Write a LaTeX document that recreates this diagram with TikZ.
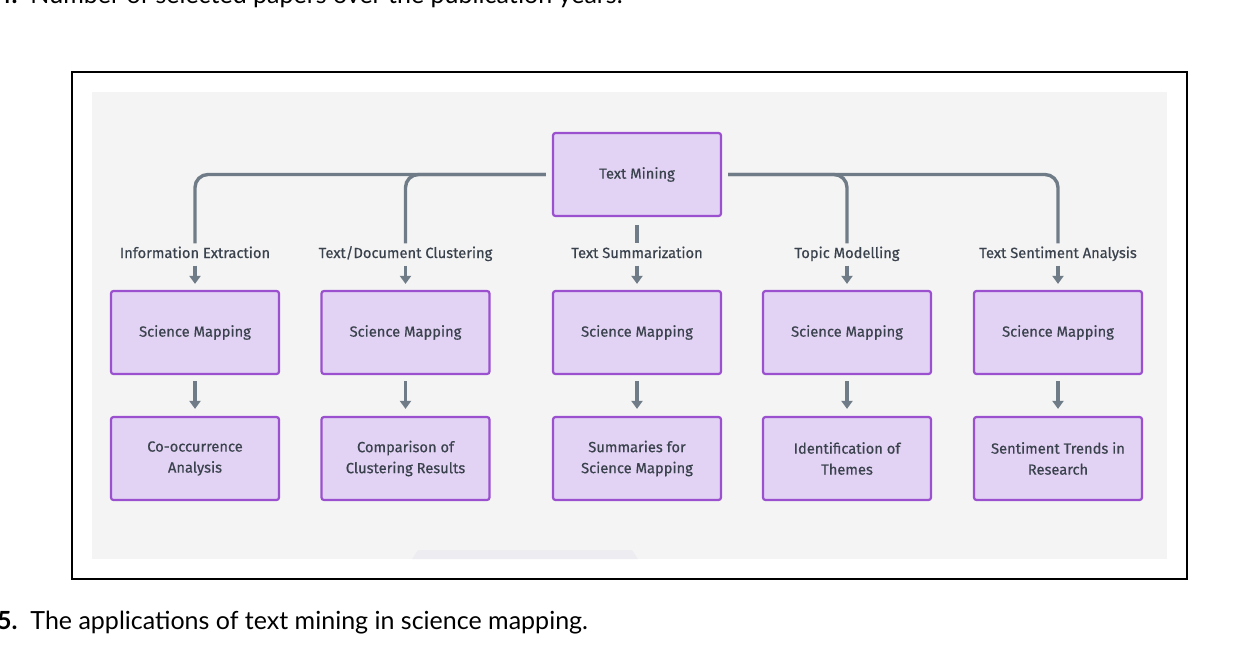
\documentclass[tikz,border=0pt]{standalone}
\usepackage{fontspec}
\setmainfont{Fira Sans}
\newfontfamily\boxfont{Fira Sans}[FakeBold=0.5]
\newfontfamily\capfont{Lato}
\usetikzlibrary{arrows.meta}
\definecolor{boxfill}{HTML}{E2D2F3}
\definecolor{boxline}{HTML}{9A50CF}
\definecolor{conn}{HTML}{6F7C87}
\definecolor{txt}{HTML}{3A424D}
\definecolor{bg}{HTML}{F4F4F4}
\definecolor{tab}{HTML}{EDEDF1}
\tikzset{
  box/.style={draw=boxline, fill=boxfill, line width=2.2pt, rounded corners=2.5pt,
    minimum width=168pt, minimum height=83pt, inner sep=0pt, align=center,
    text=txt, font=\boxfont\fontsize{14.7}{21}\selectfont},
  lab/.style={text=txt, font=\boxfont\fontsize{14.7}{16}\selectfont, inner sep=0pt,
    text height=10.5pt, text depth=3.5pt},
  link/.style={draw=conn, line width=3.4pt, rounded corners=13pt},
  arr/.style={draw=conn, line width=3.4pt, -{Triangle[width=11pt,length=8pt]}},
}
\begin{document}
\begin{tikzpicture}[x=1pt,y=-1pt]
\useasboundingbox (0,0) rectangle (1260,651);
\clip (0,0) rectangle (1260,651);
\fill[white] (0,0) rectangle (1260,651);
% frame and background
\draw[black, line width=1.2pt] (72,72) rectangle (1187,579);
\fill[bg] (92,92) rectangle (1167,559);
\fill[tab] (412,559) -- (418,550) -- (632,550) -- (638,559) -- cycle;
% captions
\node[anchor=base west, inner sep=0pt, font=\capfont\fontsize{25}{28}\selectfont] (cap4) at (-3,3) {\textbf{4.}\ \ Number of selected papers over the publication years.};
\node[anchor=base west, inner sep=0pt, font=\capfont\fontsize{25}{28}\selectfont] (cap5) at (-3,629) {\textbf{5.}\ \ The applications of text mining in science mapping.};
% top node
\node[box] (tm) at (637,174.5) {\raisebox{-1.5pt}{Text Mining}};
% labels
\node[lab] (l1) at (195,254.5) {Information Extraction};
\node[lab] (l2) at (405.5,254.5) {Text/Document Clustering};
\node[lab] (l3) at (637,254.5) {Text Summarization};
\node[lab] (l4) at (847,254.5) {Topic Modelling};
\node[lab] (l5) at (1058,254.5) {Text Sentiment Analysis};
% row 2
\node[box] (s1) at (195,332.5) {Science Mapping};
\node[box] (s2) at (405.5,332.5) {Science Mapping};
\node[box] (s3) at (637,332.5) {Science Mapping};
\node[box] (s4) at (847,332.5) {Science Mapping};
\node[box] (s5) at (1058,332.5) {Science Mapping};
% row 3
\node[box] (r1) at (195,458.5) {Co-occurrence\\Analysis};
\node[box] (r2) at (405.5,458.5) {Comparison of\\Clustering Results};
\node[box] (r3) at (637,458.5) {Summaries for\\Science Mapping};
\node[box] (r4) at (847,458.5) {Identification of\\Themes};
\node[box] (r5) at (1058,458.5) {Sentiment Trends in\\Research};
% connectors from Text Mining
\draw[link] ([xshift=-6pt]tm.west) -| ([yshift=4pt]l1.north);
\draw[link] ([xshift=-6pt]tm.west) -| ([yshift=4pt]l2.north);
\draw[link] ([xshift=6pt]tm.east) -| ([yshift=4pt]l4.north);
\draw[link] ([xshift=6pt]tm.east) -| ([yshift=4pt]l5.north);
\draw[link] ([yshift=-8pt]tm.south) -- ([yshift=4pt]l3.north);
% arrows label -> science mapping -> result
\foreach \i in {1,...,5}{
  \draw[arr] ([yshift=-4pt]l\i.south) -- ([yshift=6pt]s\i.north);
  \draw[arr] ([yshift=-6pt]s\i.south) -- ([yshift=7pt]r\i.north);
}
\end{tikzpicture}
\end{document}
